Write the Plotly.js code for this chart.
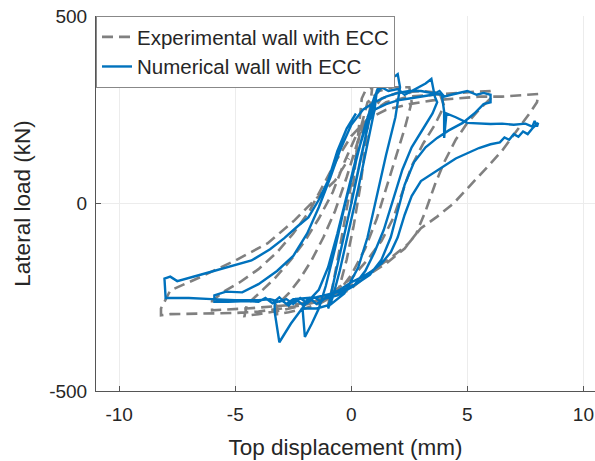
<!DOCTYPE html>
<html>
<head>
<meta charset="utf-8">
<script src="https://cdn.plot.ly/plotly-3.0.1.min.js"></script>
<style>html,body{margin:0;padding:0;background:#fff;}#chart{width:595px;height:461px;}</style>
</head>
<body>
<div id="chart"></div>
<script>
// Experimental wall with ECC (gray dashed) – displacement (mm), load (kN)
const expX = [0,0.2,0.35,0.45,0.6,0.9,0.8,0.6,0.4,0.1,-0.2,-0.5,-0.8,-1.0,-0.8,-0.5,-0.2,0.1,
  0.4,0.7,1.2,1.8,2.5,2.6,2.3,1.9,1.5,1.1,0.6,0,-0.6,-1.3,-2.0,-2.7,-3.2,-3.2,-2.7,-2.2,-1.7,-1.2,-0.7,-0.2,0.3,0.8,1.3,
  2,3,3.8,4.0,3.6,3.1,2.6,2.2,1.8,1.3,0.7,0,-1,-2,-3,-4,-4.6,-4.5,-4.0,-3.3,-2.6,-2.0,-1.4,-0.8,-0.3,0.2,0.8,1.5,
  2.5,3.5,4.5,5.3,5.95,6.0,5.5,5.0,4.5,4.0,3.6,3.2,2.8,2.3,1.5,0.5,-0.5,-1.5,-2.5,-3.5,-4.5,-5.5,-6.0,-6.0,-5.5,-4.8,-4.0,-3.2,-2.5,-1.8,-1.2,-0.6,0,0.7,1.5,
  2.5,3.5,4.5,5.5,6.5,7.3,8.06,8.0,7.7,7.2,6.5,5.9,5.3,4.8,4.4,3.7,3.0,2.46,1.8,1.0,0.3,-0.1,-1,-2,-3,-4,-5,-6,-7,-7.8,-8.2,-8.2,-7.8,-6.5,-5.0,-3.6,-2.45,-1.6,-0.7,-0.1];
const expY = [0,120,220,280,300,310,250,150,50,-60,-150,-220,-260,-270,-220,-120,-20,90,
  200,270,300,310,310,270,200,120,40,-40,-120,-190,-240,-265,-280,-290,-295,-270,-240,-200,-150,-90,-20,70,170,240,280,
  295,300,295,260,210,160,100,30,-40,-100,-150,-200,-245,-270,-285,-295,-300,-270,-240,-200,-150,-100,-40,30,110,180,240,270,
  285,290,295,298,300,280,250,215,170,110,50,-20,-80,-120,-160,-200,-235,-260,-270,-275,-280,-283,-285,-260,-235,-210,-175,-130,-80,-20,50,120,180,225,250,
  265,275,280,285,285,288,292,270,242,200,141,100,60,25,0,-35,-66,-107,-140,-175,-210,-231,-255,-270,-280,-288,-292,-293,-293,-295,-298,-280,-232,-196,-152,-106,-45,8,61,120];

// Numerical wall with ECC (blue solid)
const numX = [0,0.3,0.6,0.9,1.1,1.0,0.7,0.3,-0.1,-0.5,-0.8,-1.0,-0.8,-0.4,0,
  0.4,0.8,1.1,1.3,1.5,1.7,1.9,2.0,2.1,1.9,1.5,1.1,0.7,0.3,-0.3,-0.9,-1.5,-2.1,-2.0,-1.7,-1.4,-1.1,-0.7,-0.3,0.2,0.6,1.0,
  1.3,1.6,2.0,2.3,2.6,2.9,3.2,3.45,3.6,3.7,3.5,3.1,2.6,2.2,1.8,1.4,1.0,0.6,0.1,-0.6,-1.2,-1.5,-1.8,-2.1,-2.4,-2.7,-3.0,-3.3,-3.3,-3.1,-2.6,-2.0,-1.4,-1.0,-0.6,-0.2,0.2,0.6,1.0,
  1.5,2.0,2.5,3.0,3.5,3.8,4.0,4.3,4.6,5.0,5.4,5.7,6.0,6.0,5.7,5.3,4.8,4.2,3.7,3.2,2.7,2.3,2.0,1.7,1.3,0.8,0.2,-0.5,-1.5,-2.5,-2.8,-3.1,-3.4,-3.7,-4.0,-4.5,-5.3,-5.9,-5.9,-5.4,-4.7,-4.0,-3.2,-2.5,-1.9,-1.4,-0.9,-0.5,0,0.5,1.0,
  1.5,2.0,2.5,3.0,3.5,3.9,4.0,4.0,4.1,4.5,5.0,5.5,6.0,6.5,7.0,7.5,7.8,7.9,8.0,8.05,7.8,7.6,7.4,7.2,7.0,6.8,6.6,6.4,6.0,5.5,5.0,4.5,4.0,3.5,3.0,2.6,2.3,2.0,1.7,1.3,0.9,0.5,0.0,-0.5,-1.0,-1.3,-1.6,-1.9,-2.2,-2.5,-2.8,-3.1,-3.5,-4.0,-5.0,-6.0,-7.0,-8.0,-8.05,-7.8,-7.5,-6.5,-5.5,-4.3,-3.5,-2.9,-2.3,-1.85,-1.4,-1.0,-0.6,-0.2,0.2];
const numY = [0,90,180,260,300,250,160,40,-70,-180,-250,-280,-220,-110,0,
  120,230,300,330,320,335,340,345,310,230,130,20,-90,-170,-240,-270,-280,-280,-356,-320,-280,-220,-120,-10,110,210,285,
  310,300,305,290,300,310,320,332,285,270,240,200,150,90,10,-70,-130,-180,-220,-245,-255,-268,-252,-270,-255,-272,-258,-265,-290,-370,-320,-270,-230,-170,-80,20,120,200,250,
  265,275,280,285,290,300,285,290,295,300,290,295,290,270,265,240,215,195,175,150,110,50,-20,-90,-150,-190,-215,-235,-250,-255,-268,-250,-266,-252,-262,-260,-262,-262,-245,-235,-237,-215,-180,-140,-80,-10,70,140,210,250,270,
  285,295,300,300,295,290,245,175,240,230,215,213,212,213,210,213,205,220,205,215,200,185,192,178,185,170,176,163,158,148,135,120,100,80,60,20,-30,-90,-130,-160,-180,-195,-210,-230,-245,-262,-250,-266,-252,-268,-255,-262,-255,-258,-258,-255,-252,-252,-200,-195,-207,-190,-172,-152,-122,-93,-60,-37,10,61,140,200,240];

// Axis ticks
const xTickVals = [-10,-5,0,5,10];
const xTickText = ['-10','-5','0','5','10'];
const yTickVals = [-500,0,500];
const yTickText = ['-500','0','500'];

const FONT = 'Liberation Sans, Arial, sans-serif';
const TXT = '#262626';

const traces = [
  {x: expX, y: expY, type: 'scatter', mode: 'lines', name: 'Experimental wall with ECC',
   line: {color: '#808080', width: 2.6, dash: '11px,6px'}},
  {x: numX, y: numY, type: 'scatter', mode: 'lines', name: 'Numerical wall with ECC',
   line: {color: '#0072BD', width: 2.4}}
];

const layout = {
  width: 595, height: 461,
  margin: {l: 96, r: 0, t: 16, b: 70},
  paper_bgcolor: '#fff', plot_bgcolor: '#fff',
  font: {family: FONT, color: TXT, size: 19},
  showlegend: true,
  legend: {x: 0, y: 1, xanchor: 'left', yanchor: 'top', bgcolor: '#fff',
           bordercolor: '#888', borderwidth: 1, font: {size: 20.5, color: TXT},
           tracegroupgap: 0, itemwidth: 30},
  xaxis: {range: [-11, 10.5], tickmode: 'array', tickvals: xTickVals, ticktext: xTickText,
          showgrid: true, gridcolor: '#ececec', gridwidth: 1, zeroline: false,
          showline: true, linecolor: '#555', linewidth: 1, mirror: false,
          ticks: 'inside', ticklen: 5, tickcolor: '#555', tickfont: {size: 19, color: TXT},
          ticklabelstandoff: 6,
          title: {text: 'Top displacement (mm)', font: {size: 22.5, color: TXT}, standoff: 15}},
  yaxis: {range: [-500, 500], tickmode: 'array', tickvals: yTickVals, ticktext: yTickText,
          showgrid: true, gridcolor: '#ececec', gridwidth: 1, zeroline: false,
          showline: true, linecolor: '#555', linewidth: 1, mirror: false,
          ticks: 'inside', ticklen: 5, tickcolor: '#555', tickfont: {size: 19, color: TXT},
          ticklabelstandoff: 4,
          title: {text: 'Lateral load (kN)', font: {size: 22.5, color: TXT}, standoff: 12}}
};

Plotly.newPlot('chart', traces, layout, {staticPlot: true, displayModeBar: false});
</script>
</body>
</html>
